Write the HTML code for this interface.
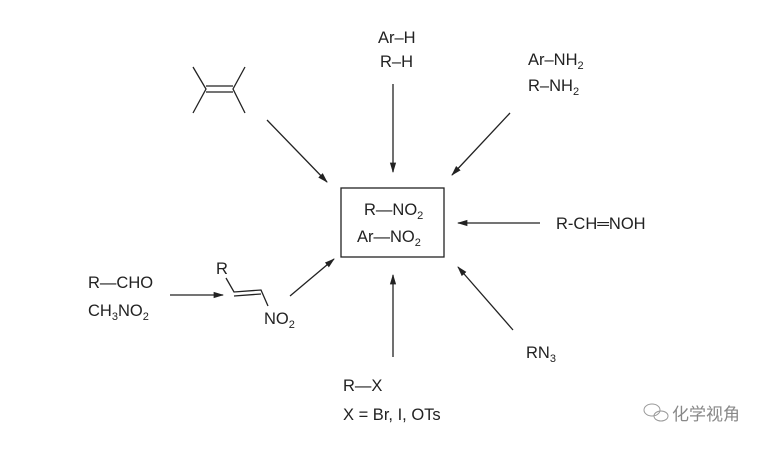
<!DOCTYPE html>
<html><head><meta charset="utf-8"><style>
body{margin:0;background:#fff;}
svg text{font-family:"Liberation Sans",Arial,sans-serif;font-size:16.5px;fill:#222;}
</style></head><body>
<svg width="768" height="447" viewBox="0 0 768 447" xmlns="http://www.w3.org/2000/svg">
<defs><marker id="a" viewBox="0 0 10 10" refX="9" refY="5" markerWidth="8" markerHeight="8" orient="auto"><path d="M0,2 L10,5 L0,8 z" fill="#222"/></marker></defs>
<g stroke="#222" stroke-width="1.3" fill="none">
<rect x="341" y="188" width="103" height="69"/>
<path d="M193,67 L206,89 L193,113 M245,67 L233,89 L245,113 M206,86 L233,86 M206,92 L233,92"/>
<line x1="267" y1="120" x2="327" y2="182" marker-end="url(#a)"/>
<line x1="393" y1="84" x2="393" y2="172" marker-end="url(#a)"/>
<line x1="510" y1="113" x2="452" y2="175" marker-end="url(#a)"/>
<line x1="540" y1="223" x2="458" y2="223" marker-end="url(#a)"/>
<line x1="393" y1="357" x2="393" y2="275" marker-end="url(#a)"/>
<line x1="513" y1="330" x2="458" y2="267" marker-end="url(#a)"/>
<line x1="290" y1="296" x2="334" y2="259" marker-end="url(#a)"/>
<line x1="170" y1="295" x2="223" y2="295" marker-end="url(#a)"/>
<path d="M226,278 L234,292 L261,290 L268,306 M234,296 L261,294"/>
</g>
<text x="378" y="43">Ar–H</text>
<text x="380" y="67">R–H</text>
<text x="528" y="65">Ar–NH<tspan font-size="11" dy="4">2</tspan></text>
<text x="528" y="91">R–NH<tspan font-size="11" dy="4">2</tspan></text>
<text x="556" y="229">R-CH═NOH</text>
<text x="364" y="215">R—NO<tspan font-size="11" dy="4">2</tspan></text>
<text x="357" y="242">Ar—NO<tspan font-size="11" dy="4">2</tspan></text>
<text x="88" y="288">R—CHO</text>
<text x="88" y="316">CH<tspan font-size="11" dy="4">3</tspan><tspan dy="-4">NO</tspan><tspan font-size="11" dy="4">2</tspan></text>
<text x="216" y="274">R</text>
<text x="264" y="324">NO<tspan font-size="11" dy="4">2</tspan></text>
<text x="526" y="358">RN<tspan font-size="11" dy="4">3</tspan></text>
<text x="343" y="391">R—X</text>
<text x="343" y="420">X = Br, I, OTs</text>
<g stroke="#999" fill="none" stroke-width="1"><ellipse cx="652" cy="410" rx="8" ry="6"/><ellipse cx="661" cy="416" rx="7" ry="5"/></g>
<text x="672" y="420" style="font-family:'Noto Sans CJK SC',sans-serif;font-size:17px;fill:#888">化学视角</text>
</svg>
</body></html>
